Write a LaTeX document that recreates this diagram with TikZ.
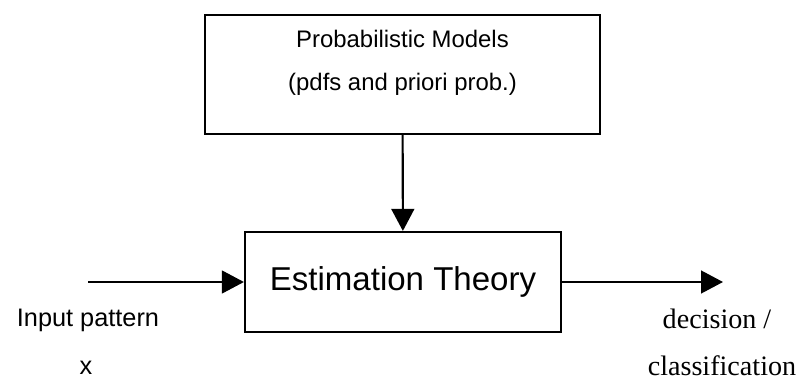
\documentclass[tikz,border=0pt]{standalone}
\usepackage{fontspec}
\setmainfont{Liberation Serif}
\newfontfamily\arial{Liberation Sans}
\usepackage{tikz}
\usetikzlibrary{arrows.meta}

\tikzset{
    block/.style={draw, line width=1.5pt, align=center, font=\arial},
    flow/.style={line width=1.5pt, -{Triangle[length=0.55cm, width=0.57cm]}}
}

\begin{document}
\begin{tikzpicture}[x=0.025cm, y=-0.025cm]
    \useasboundingbox (0, 0) rectangle (796, 381);

    % the two blocks
    \node[block, minimum width=9.875cm, minimum height=2.975cm, text depth=20pt,
          font=\arial\fontsize{17}{30.5}\selectfont] (models) at (402.5, 74.5)
        {Probabilistic Models\\(pdfs and priori prob.)};
    \node[block, minimum width=7.9cm, minimum height=2.5cm,
          font=\arial\fontsize{23.5}{28}\selectfont] (estim) at (403, 282)
        {Estimation Theory};

    % input and output
    \coordinate (in) at (88, 282);
    \coordinate (out) at (723, 282);
    \draw[flow] (models) -- (estim);
    \draw[flow] (in) -- (estim);
    \draw[flow] (estim) -- (out);

    % labels
    \node[font=\arial\fontsize{18}{22}\selectfont] (inlabel) at (88, 320) {Input pattern};
    \node[font=\arial\fontsize{18}{22}\selectfont] (xlabel) at (86, 368) {x};
    \node[font=\fontsize{20}{24}\selectfont] (declabel) at (717, 319) {decision /};
    \node[font=\fontsize{20}{24}\selectfont] (clslabel) at (722, 366) {classification};
\end{tikzpicture}
\end{document}
